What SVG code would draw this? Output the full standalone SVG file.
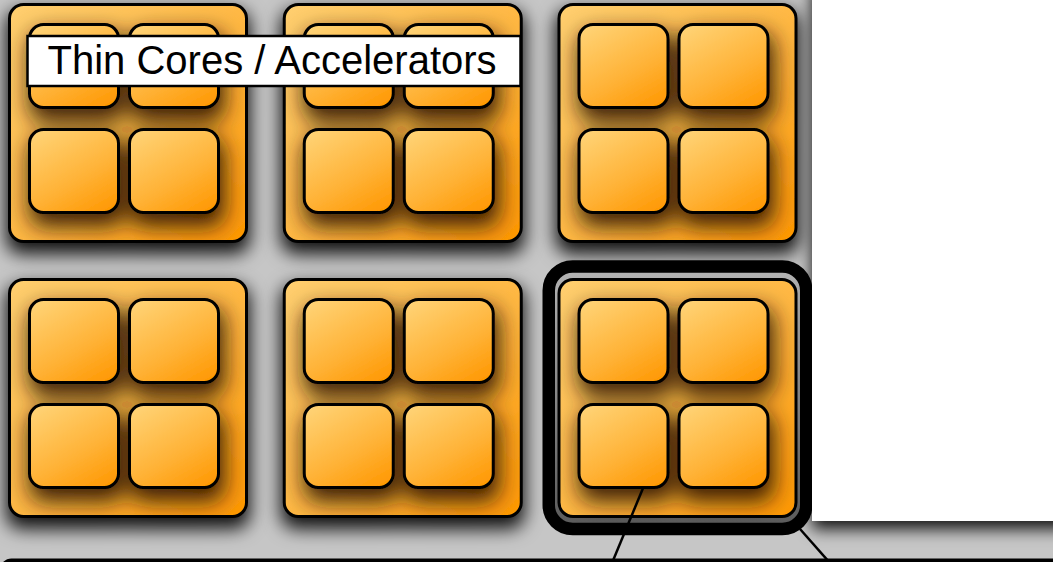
<svg xmlns="http://www.w3.org/2000/svg" width="1053" height="562" viewBox="0 0 1053 562">
  <defs>
    <linearGradient id="tileFill" x1="0" y1="0" x2="1" y2="1">
      <stop offset="0" stop-color="#ffcf70"/>
      <stop offset="0.55" stop-color="#ffb640"/>
      <stop offset="1" stop-color="#ff9700"/>
    </linearGradient>
    <linearGradient id="coreFill" x1="0.2" y1="0" x2="0.8" y2="1">
      <stop offset="0" stop-color="#ffd172"/>
      <stop offset="0.6" stop-color="#ffb236"/>
      <stop offset="1" stop-color="#ff9a06"/>
    </linearGradient>
    <linearGradient id="ringFill" x1="0" y1="0" x2="0" y2="1">
      <stop offset="0" stop-color="#b4b4b4"/>
      <stop offset="1" stop-color="#5a5a5a"/>
    </linearGradient>
    <!-- soft, spread shadow under each tile -->
    <filter id="tileShadow" x="-25%" y="-25%" width="150%" height="150%">
      <feMorphology in="SourceAlpha" operator="dilate" radius="2" result="grow"/>
      <feGaussianBlur in="grow" stdDeviation="9" result="blur"/>
      <feOffset in="blur" dx="0" dy="9" result="off"/>
      <feFlood flood-color="#000" flood-opacity="0.9"/>
      <feComposite in2="off" operator="in" result="shadow"/>
      <feMerge><feMergeNode in="shadow"/><feMergeNode in="SourceGraphic"/></feMerge>
    </filter>
    <!-- brown shadow cast by the cores onto the tile -->
    <filter id="coreShadow" x="-30%" y="-30%" width="160%" height="160%">
      <feMorphology in="SourceAlpha" operator="dilate" radius="2" result="grow"/>
      <feGaussianBlur in="grow" stdDeviation="11" result="blur"/>
      <feOffset in="blur" dx="3" dy="11" result="off"/>
      <feFlood flood-color="#2a1500" flood-opacity="0.9"/>
      <feComposite in2="off" operator="in" result="shadow"/>
      <feMerge><feMergeNode in="shadow"/><feMergeNode in="SourceGraphic"/></feMerge>
    </filter>
    <filter id="panelShadow" x="-20%" y="-20%" width="140%" height="140%">
      <feDropShadow dx="0" dy="8" stdDeviation="8" flood-color="#000" flood-opacity="0.9"/>
    </filter>
    <g id="quad">
      <rect class="tile" x="1.5" y="1.5" width="237" height="237" rx="14"/>
      <g filter="url(#coreShadow)">
        <rect class="core" x="21.5" y="21.5" width="89" height="83" rx="14"/>
        <rect class="core" x="121.5" y="21.5" width="89" height="83" rx="14"/>
        <rect class="core" x="21.5" y="126.5" width="89" height="83" rx="14"/>
        <rect class="core" x="121.5" y="126.5" width="89" height="83" rx="14"/>
      </g>
    </g>
  </defs>
  <style>
    .tile { fill: url(#tileFill); stroke: #000; stroke-width: 3; }
    .core { fill: url(#coreFill); stroke: #000; stroke-width: 3; }
    .link { stroke: #000; stroke-width: 2.5; fill: none; }
    .label-box { fill: #fff; stroke: #000; stroke-width: 2.5; }
    .label { font-family: "Liberation Sans", Arial, sans-serif; font-size: 40px; fill: #000; }
  </style>

  <!-- backdrop -->
  <rect x="0" y="0" width="1053" height="562" fill="#c6c6c6"/>
  <rect x="1.5" y="560" width="1100" height="40" rx="10" fill="#000" stroke="#000" stroke-width="3"/>

  <!-- tiles of thin cores -->
  <g id="tile-1" transform="translate(8,3)"><use href="#quad" filter="url(#tileShadow)"/></g>
  <g id="tile-2" transform="translate(282.75,3)"><use href="#quad" filter="url(#tileShadow)"/></g>
  <g id="tile-3" transform="translate(557.5,3)"><use href="#quad" filter="url(#tileShadow)"/></g>
  <g id="tile-4" transform="translate(8,278)"><use href="#quad" filter="url(#tileShadow)"/></g>
  <g id="tile-5" transform="translate(282.75,278)"><use href="#quad" filter="url(#tileShadow)"/></g>

  <!-- selected tile with its heavy outline -->
  <g id="tile-6">
    <rect x="548.75" y="266.5" width="257.5" height="262.5" rx="24" fill="url(#ringFill)" stroke="#000" stroke-width="12.5"/>
    <g transform="translate(557.5,278)"><use href="#quad"/></g>
  </g>

  <!-- caption -->
  <g id="caption">
    <rect class="label-box" x="27.5" y="36" width="493" height="50"/>
    <text class="label" x="47.5" y="74">Thin Cores / Accelerators</text>
  </g>

  <!-- right-hand panel -->
  <g id="panel">
    <rect x="812" y="-20" width="260" height="541" fill="#fff" filter="url(#panelShadow)"/>
  </g>

  <!-- callout lines -->
  <g id="connectors">
    <line class="link" x1="643.5" y1="487" x2="612" y2="563"/>
    <line class="link" x1="800" y1="529" x2="830" y2="563"/>
  </g>
</svg>
